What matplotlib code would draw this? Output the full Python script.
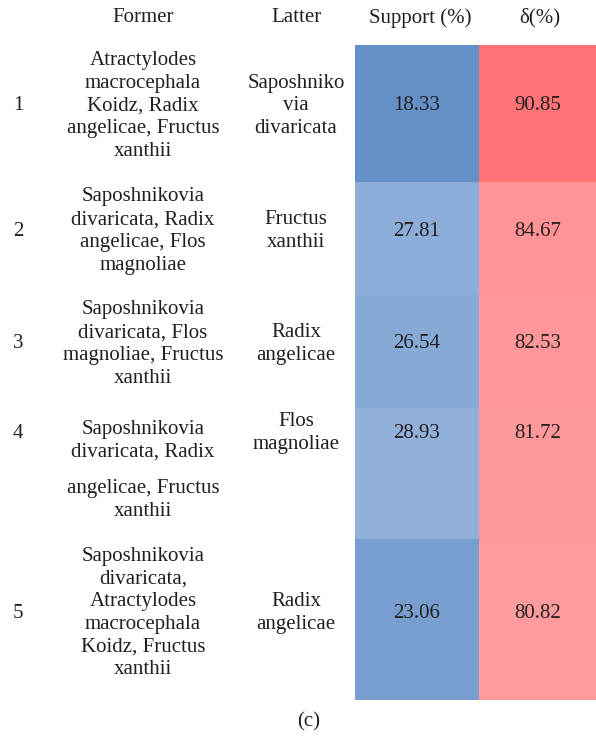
import matplotlib
matplotlib.use("Agg")
import matplotlib.pyplot as plt
from matplotlib.colors import LinearSegmentedColormap, Normalize
from matplotlib.patches import Rectangle

plt.rcParams['font.family'] = ['Liberation Serif', 'DejaVu Serif']

# ---------------- data ----------------
headers = ["Former", "Latter", "Support (%)", "δ(%)"]
rule_ids = ["1", "2", "3", "4", "5"]
# a blank line marks where the cell text is split across a page break
former = [
    "Atractylodes\nmacrocephala\nKoidz, Radix\nangelicae, Fructus\nxanthii",
    "Saposhnikovia\ndivaricata, Radix\nangelicae, Flos\nmagnoliae",
    "Saposhnikovia\ndivaricata, Flos\nmagnoliae, Fructus\nxanthii",
    "Saposhnikovia\ndivaricata, Radix\n\nangelicae, Fructus\nxanthii",
    "Saposhnikovia\ndivaricata,\nAtractylodes\nmacrocephala\nKoidz, Fructus\nxanthii",
]
latter = [
    "Saposhniko\nvia\ndivaricata",
    "Fructus\nxanthii",
    "Radix\nangelicae",
    "Flos\nmagnoliae",
    "Radix\nangelicae",
]
support = [18.33, 27.81, 26.54, 28.93, 23.06]
delta = [90.85, 84.67, 82.53, 81.72, 80.82]

# ---------------- layout (pixels) ----------------
W, H = 596, 742
row_edges = [45, 182, 295, 408, 539, 700]
text_y = [106, 231, 344, 434, 613]
former_y = [[106], [231], [344], [441, 500], [613]]
latter_y = [106, 231, 344, 433, 613]
x_idx, x_former, x_latter = 18, 143, 296
sup_x0, sup_x1, del_x1 = 355, 479, 596

blue_cmap = LinearSegmentedColormap.from_list("blue", ["#6490C8", "#90B0DA"])
red_cmap = LinearSegmentedColormap.from_list(
    "red", [(0.0, "#FF9A9D"), (0.4, "#FF9396"), (1.0, "#FF7275")])
sup_norm = Normalize(min(support), max(support))
del_norm = Normalize(min(delta), max(delta))  # high delta -> darker

fig = plt.figure(figsize=(W / 100, H / 100), dpi=100)
ax = fig.add_axes([0, 0, 1, 1])
ax.set_xlim(0, W)
ax.set_ylim(H, 0)
ax.axis("off")

fs = 15
ls = 1.27
tc = "#231F20"

# header
for label, x in zip(headers, [x_former, x_latter, 420, 540]):
    ax.text(x, 18, label, ha="center", va="center", fontsize=fs, color=tc)

for i in range(len(rule_ids)):
    y0, y1 = row_edges[i], row_edges[i + 1]
    ax.add_patch(Rectangle((sup_x0, y0), sup_x1 - sup_x0, y1 - y0, lw=0,
                           facecolor=blue_cmap(sup_norm(support[i]))))
    ax.add_patch(Rectangle((sup_x1, y0), del_x1 - sup_x1, y1 - y0, lw=0,
                           facecolor=red_cmap(del_norm(delta[i]))))
    ax.text(x_idx, text_y[i], rule_ids[i], ha="center", va="center",
            fontsize=fs, color=tc)
    for part, py in zip(former[i].split("\n\n"), former_y[i]):
        ax.text(x_former, py, part, ha="center", va="center",
                fontsize=fs, linespacing=ls, color=tc)
    ax.text(x_latter, latter_y[i], latter[i], ha="center", va="center",
            fontsize=fs, linespacing=ls, color=tc)
    ax.text((sup_x0 + sup_x1) / 2, text_y[i], f"{support[i]:.2f}", ha="center",
            va="center", fontsize=fs, color=tc)
    ax.text((sup_x1 + del_x1) / 2, text_y[i], f"{delta[i]:.2f}", ha="center",
            va="center", fontsize=fs, color=tc)

ax.text(309, 722, "(c)", ha="center", va="center", fontsize=fs, color=tc)

fig.savefig("out.png", dpi=100)
